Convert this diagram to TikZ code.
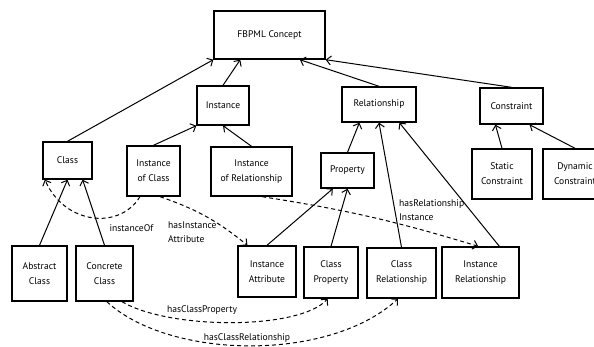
\documentclass[tikz,border=0pt]{standalone}
\usepackage{fontspec}
\setmainfont{PT Sans}
\usetikzlibrary{arrows.meta, calc}

\begin{document}
\begin{tikzpicture}[
    x=1pt, y=-1pt,
    concept/.style={draw=black, line width=1.4pt, inner sep=1pt, align=center, font=\fontsize{9.6}{15}\selectfont},
    is_a/.style={line width=1pt, -{Straight Barb[length=4.5pt, width=9pt, line width=1pt]}},
    relation/.style={line width=1pt, dash pattern=on 4pt off 3pt, -{Straight Barb[length=4.5pt, width=9pt, line width=1pt]}},
    link_label/.style={font=\fontsize{9.6}{14}\selectfont, inner sep=0pt, align=left}
]

% Marco fijo de la figura
\useasboundingbox (0,0) rectangle (594,347);

% ==========================
% NIVEL SUPERIOR
% ==========================
\node[concept, minimum width=111pt, minimum height=48pt] (fbpml) at (269.5,35) {FBPML Concept};

\node[concept, minimum width=52pt, minimum height=39pt] (instance) at (223,105.5) {Instance};
\node[concept, minimum width=74pt, minimum height=35pt] (relationship) at (379,104.5) {Relationship};
\node[concept, minimum width=63pt, minimum height=36pt] (constraint) at (511.5,106) {Constraint};

% ==========================
% NIVEL INTERMEDIO
% ==========================
\node[concept, minimum width=49pt, minimum height=37pt] (class) at (67.5,160.5) {Class};
\node[concept, minimum width=53pt, minimum height=50pt] (instClass) at (153.5,171) {Instance\\of Class};
\node[concept, minimum width=81pt, minimum height=49pt] (instRel) at (251.5,171.5) {Instance\\of Relationship};
\node[concept, minimum width=53pt, minimum height=35pt] (property) at (347.5,170.5) {Property};
\node[concept, minimum width=60pt, minimum height=50pt] (static) at (502,174) {Static\\Constraint};
\node[concept, minimum width=64pt, minimum height=50pt] (dynamic) at (575,174) {Dynamic\\Constraint};

% ==========================
% NIVEL INFERIOR
% ==========================
\node[concept, minimum width=55pt, minimum height=55pt] (abstract) at (39.5,273.5) {Abstract\\Class};
\node[concept, minimum width=57pt, minimum height=55pt] (concrete) at (104.5,273.5) {Concrete\\Class};
\node[concept, minimum width=58pt, minimum height=51pt] (instAttr) at (267,271.5) {Instance\\Attribute};
\node[concept, minimum width=54pt, minimum height=51pt] (classProp) at (331,272.5) {Class\\Property};
\node[concept, minimum width=69pt, minimum height=50pt] (classRel) at (401.5,273) {Class\\Relationship};
\node[concept, minimum width=77pt, minimum height=51pt] (instRelship) at (480.5,272.5) {Instance\\Relationship};

% ==========================
% GENERALIZACIONES
% ==========================
\draw[is_a] (class.north) -- (fbpml.south west);
\draw[is_a] (instance.north) -- ($(fbpml.south west)!0.24!(fbpml.south east)$);
\draw[is_a] (relationship.north) -- ($(fbpml.south west)!0.77!(fbpml.south east)$);
\draw[is_a] (constraint.north) -- (fbpml.south east);

\draw[is_a] (instClass.north) -- (instance.south west);
\draw[is_a] (instRel.north) -- (instance.south);

\draw[is_a] (property.north) -- ($(relationship.south west)!0.24!(relationship.south east)$);
\draw[is_a] (classRel.north) -- (relationship.south);
\draw[is_a] ($(instRelship.north west)!0.74!(instRelship.north east)$) -- ($(relationship.south west)!0.77!(relationship.south east)$);

\draw[is_a] (static.north) -- ($(constraint.south west)!0.25!(constraint.south east)$);
\draw[is_a] (dynamic.north) -- ($(constraint.south west)!0.78!(constraint.south east)$);

\draw[is_a] (abstract.north) -- (class.south);
\draw[is_a] (concrete.north) -- ($(class.south west)!0.8!(class.south east)$);

\draw[is_a] (instAttr.north) -- ($(property.south west)!0.23!(property.south east)$);
\draw[is_a] (classProp.north) -- (property.south);

% ==========================
% RELACIONES
% ==========================
\draw[relation] ($(instClass.south west)!0.25!(instClass.south east)$)
    .. controls (120,230) and (65,225) .. ($(class.south west)!0.05!(class.south east)$);
\node[link_label] (lblInstanceOf) at (131.5,228) {instanceOf};

\draw[relation] ($(instClass.south west)!0.62!(instClass.south east)$)
    to[bend left=10] ($(instAttr.north west)!0.17!(instAttr.north east)$);
\node[link_label, anchor=west] (lblInstAttr) at (168,232) {hasInstance\\Attribute};

\draw[relation] ($(instRel.south west)!0.63!(instRel.south east)$)
    to[bend left=4] ($(instRelship.north west)!0.47!(instRelship.north east)$);
\node[link_label, anchor=west] (lblRelInst) at (399,210) {hasRelationship\\Instance};

\draw[relation] ($(concrete.south west)!0.8!(concrete.south east)$)
    .. controls (170,330) and (300,330) .. ($(classProp.south west)!0.44!(classProp.south east)$);
\node[link_label] (lblClassProp) at (202,310) {hasClassProperty};

\draw[relation] ($(concrete.south west)!0.54!(concrete.south east)$)
    .. controls (170,360) and (330,362) .. ($(classRel.south west)!0.45!(classRel.south east)$);
\node[link_label] (lblClassRel) at (247,338) {hasClassRelationship};

\end{tikzpicture}
\end{document}
